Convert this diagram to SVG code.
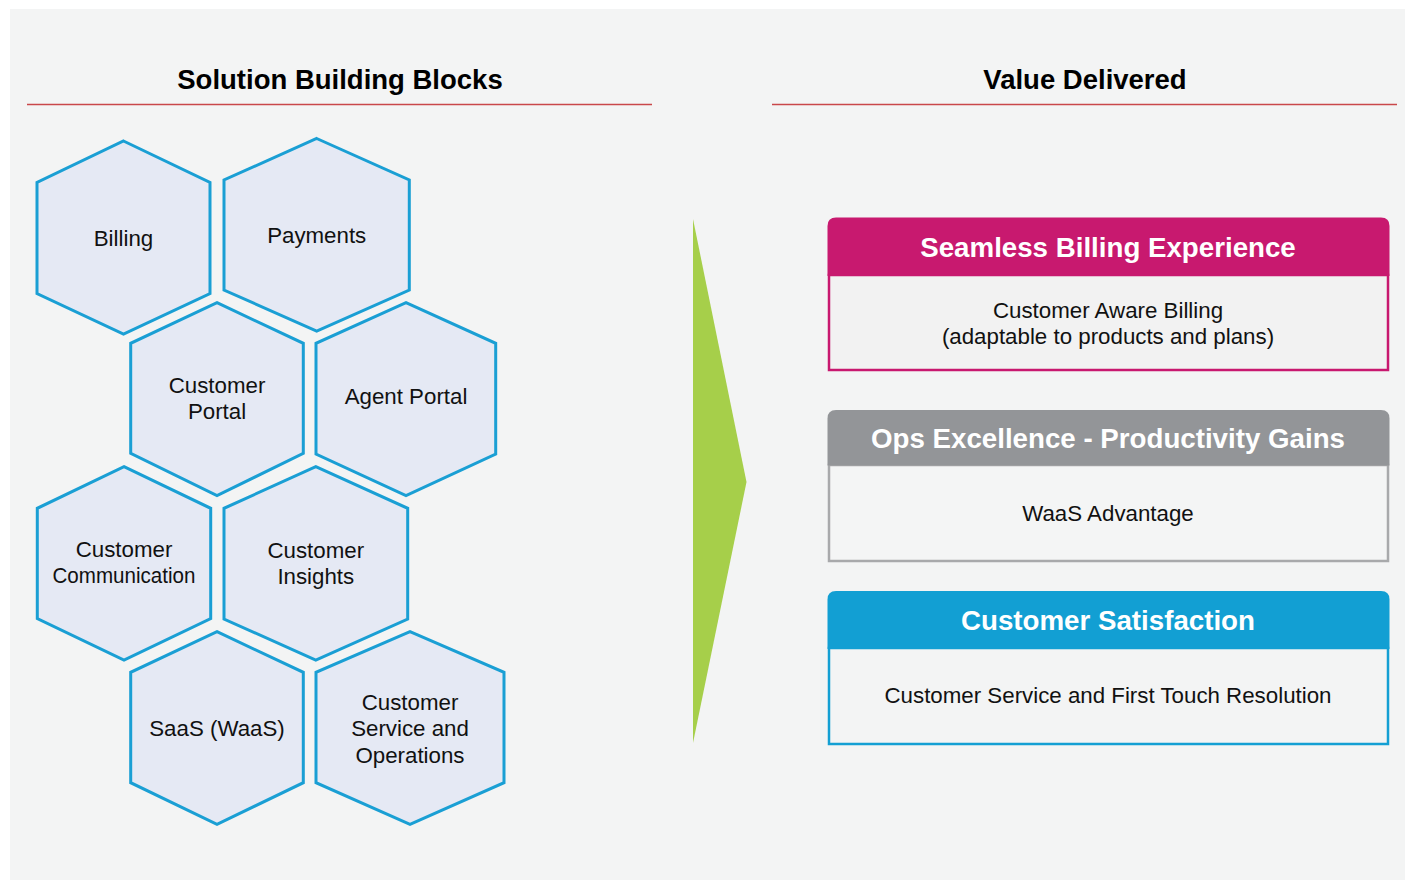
<svg xmlns="http://www.w3.org/2000/svg" width="1405" height="880" viewBox="0 0 1405 880">
<style>
.hex{fill:#e5e9f4;stroke:#1a9fd4;stroke-width:3;stroke-linejoin:miter}
.ht{font-family:"Liberation Sans",Arial,sans-serif;font-size:22.3px;fill:#111;text-anchor:middle}
.title{font-family:"Liberation Sans",Arial,sans-serif;font-size:27.5px;font-weight:bold;fill:#000;text-anchor:middle}
.rule{stroke:#c9474a;stroke-width:1.5}
.hdr{font-family:"Liberation Sans",Arial,sans-serif;font-size:27.7px;font-weight:bold;fill:#fff;text-anchor:middle}
.bt{font-family:"Liberation Sans",Arial,sans-serif;font-size:22.3px;fill:#111;text-anchor:middle}
</style>
<rect x="0" y="0" width="1405" height="880" fill="#ffffff"/>
<rect x="10" y="9" width="1395" height="871" fill="#f3f4f4"/>

<g id="titles">
<text class="title" x="340" y="89">Solution Building Blocks</text>
<line class="rule" x1="27" y1="104.5" x2="652" y2="104.5"/>
<text class="title" x="1085" y="89">Value Delivered</text>
<line class="rule" x1="772" y1="104.5" x2="1397" y2="104.5"/>
</g>

<g id="billing">
<polygon class="hex" points="123.5,141 210,182.5 210,293.5 123.5,334 37,293.5 37,182.5"/>
<text class="ht" x="123.5" y="246">Billing</text>
</g>
<g id="payments">
<polygon class="hex" points="316.7,138.5 409.3,180 409.3,290 316.7,331 224,290 224,180"/>
<text class="ht" x="316.7" y="243">Payments</text>
</g>
<g id="customer-portal">
<polygon class="hex" points="217,302.7 303.3,343.3 303.3,453.3 217,495.7 130.7,453.3 130.7,343.3"/>
<text class="ht" x="217" y="393">Customer</text>
<text class="ht" x="217" y="419">Portal</text>
</g>
<g id="agent-portal">
<polygon class="hex" points="406,302.7 495.7,343.3 495.7,454 406,495.7 316,454 316,343.3"/>
<text class="ht" x="406" y="404">Agent Portal</text>
</g>
<g id="customer-communication">
<polygon class="hex" points="124,466.7 210.7,508.3 210.7,618.5 124,660 37.3,618.5 37.3,508.3"/>
<text class="ht" x="124" y="556.5">Customer</text>
<text class="ht" x="124" y="582.5" textLength="143" lengthAdjust="spacingAndGlyphs">Communication</text>
</g>
<g id="customer-insights">
<polygon class="hex" points="315.8,466.7 407.7,508.3 407.7,619 315.8,660 224,619 224,508.3"/>
<text class="ht" x="315.8" y="558">Customer</text>
<text class="ht" x="315.8" y="584">Insights</text>
</g>
<g id="saas">
<polygon class="hex" points="217,631.7 303.3,672.3 303.3,782.7 217,824.3 130.7,782.7 130.7,672.3"/>
<text class="ht" x="217" y="736">SaaS (WaaS)</text>
</g>
<g id="customer-service">
<polygon class="hex" points="410,631.7 504,672.3 504,782.7 410,824.3 316,782.7 316,672.3"/>
<text class="ht" x="410" y="710">Customer</text>
<text class="ht" x="410" y="736">Service and</text>
<text class="ht" x="410" y="762.5">Operations</text>
</g>

<g id="connectors">
<polygon points="693,219 746.5,482 693,743" fill="#a6cf4a"/>
</g>

<g id="seamless-billing">
<rect x="829" y="275" width="559" height="95" fill="#f2f2f2" stroke="#c8186f" stroke-width="2.5"/>
<path d="M827.5,276 V226 Q827.5,217.5 836,217.5 H1381 Q1389.5,217.5 1389.5,226 V276 Z" fill="#c8196f"/>
<text class="hdr" x="1108" y="257">Seamless Billing Experience</text>
<text class="bt" x="1108" y="318">Customer Aware Billing</text>
<text class="bt" x="1108" y="344">(adaptable to products and plans)</text>
</g>

<g id="ops-excellence">
<rect x="829" y="465" width="559" height="96" fill="#f4f5f5" stroke="#a8a9ab" stroke-width="2.5"/>
<path d="M827.5,465.5 V418.5 Q827.5,410 836,410 H1381 Q1389.5,410 1389.5,418.5 V465.5 Z" fill="#939598"/>
<text class="hdr" x="1108" y="448">Ops Excellence - Productivity Gains</text>
<text class="bt" x="1108" y="521">WaaS Advantage</text>
</g>

<g id="customer-satisfaction">
<rect x="829" y="648" width="559" height="96" fill="#f3f4f4" stroke="#139fd3" stroke-width="2.5"/>
<path d="M827.5,649 V599.5 Q827.5,591 836,591 H1381 Q1389.5,591 1389.5,599.5 V649 Z" fill="#129fd3"/>
<text class="hdr" x="1108" y="630">Customer Satisfaction</text>
<text class="bt" x="1108" y="703">Customer Service and First Touch Resolution</text>
</g>
</svg>
